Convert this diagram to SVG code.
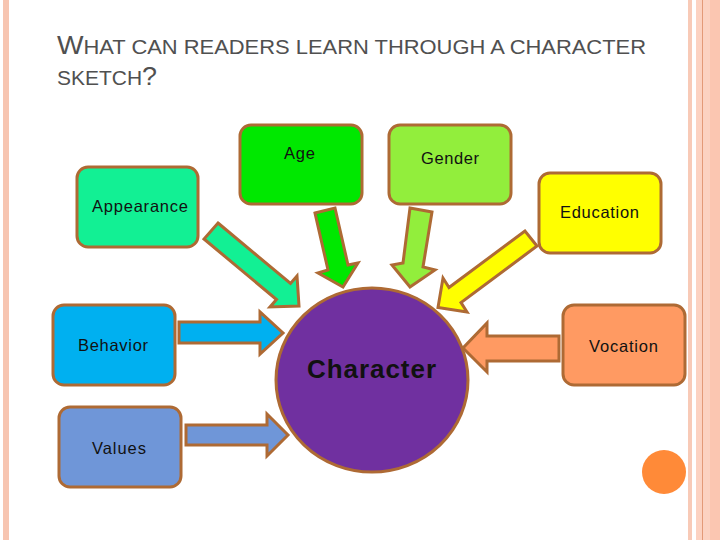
<svg xmlns="http://www.w3.org/2000/svg" width="720" height="540" viewBox="0 0 720 540">
<style>
.box{stroke:#AE6A34;stroke-width:3}
.arr{stroke:#AE6A34;stroke-width:3;stroke-linejoin:miter}
.lbl{font-family:"Liberation Sans",Arial,sans-serif;font-size:16.5px;fill:#111;text-anchor:middle}
.ttl{font-family:"Liberation Sans",Arial,sans-serif;fill:#505050}
</style>
<rect width="720" height="540" fill="#fff"/>
<rect x="3" y="0" width="6" height="540" fill="#F7C5B1"/>
<rect x="688" y="0" width="4" height="540" fill="#F8CAB7"/>
<rect x="696" y="0" width="24" height="540" fill="#FCD2C1"/>
<rect x="710" y="0" width="10" height="540" fill="#FBC6B1"/>
<line x1="702.5" y1="0" x2="702.5" y2="540" stroke="#E39A78" stroke-width="1"/>
<text class="ttl" x="57" y="54" textLength="589" lengthAdjust="spacingAndGlyphs"><tspan font-size="25">W</tspan><tspan font-size="19.5">HAT CAN READERS LEARN THROUGH A CHARACTER</tspan></text>
<text class="ttl" x="57" y="85" textLength="100" lengthAdjust="spacingAndGlyphs"><tspan font-size="19.5">SKETCH</tspan><tspan font-size="25">?</tspan></text>
<g id="connectors">
<polygon class="arr" fill="#12F094" points="218,223 290.5,283.5 297,276 299,306 270,307 276.5,299.5 204,239"/>
<polygon class="arr" fill="#00E800" points="315,213 335,208 348,265 358,263 343,287 318,273 328,270"/>
<polygon class="arr" fill="#92EE3C" points="410,208 432,212 423,267 435,270 410,287 392,265 403,263"/>
<polygon class="arr" fill="#FFFF00" points="525,231 449,287.5 443,278 438,307.5 467,312 461,302.5 537,246"/>
<polygon class="arr" fill="#00B0F0" points="179,322 260,322 260,312 283,333 260,354 260,343 179,343"/>
<polygon class="arr" fill="#6F96D8" points="186,425 267,425 267,414 288,435 267,456 267,445 186,445"/>
<polygon class="arr" fill="#FF9A62" points="559,336 487,336 487,323 463,348 487,372 487,361 559,361"/>
</g>
<g id="age"><rect class="box" x="240" y="125" width="122" height="79" rx="11" fill="#00E800"/><text class="lbl" x="299.5" y="159" textLength="31">Age</text></g>
<g id="gender"><rect class="box" x="389" y="125" width="122" height="79" rx="11" fill="#92EE3C"/><text class="lbl" x="450" y="164" textLength="58">Gender</text></g>
<g id="appearance"><rect class="box" x="77" y="167" width="121" height="80" rx="11" fill="#12F094"/><text class="lbl" x="140" y="212" textLength="96">Appearance</text></g>
<g id="education"><rect class="box" x="539" y="173" width="122" height="80" rx="11" fill="#FFFF00"/><text class="lbl" x="599.5" y="218" textLength="79">Education</text></g>
<g id="behavior"><rect class="box" x="53" y="305" width="122" height="80" rx="11" fill="#00B0F0"/><text class="lbl" x="113" y="351" textLength="70">Behavior</text></g>
<g id="values"><rect class="box" x="59" y="407" width="122" height="80" rx="11" fill="#6F96D8"/><text class="lbl" x="119" y="454" textLength="54">Values</text></g>
<g id="vocation"><rect class="box" x="563" y="305" width="122" height="80" rx="11" fill="#FF9A62"/><text class="lbl" x="623.5" y="352" textLength="69">Vocation</text></g>
<g id="character"><ellipse class="box" cx="372" cy="380" rx="96" ry="92" fill="#7030A0"/><text x="371.5" y="378" text-anchor="middle" font-family="Liberation Sans,Arial,sans-serif" font-weight="bold" font-size="26" fill="#111" textLength="129">Character</text></g>
<circle cx="664" cy="472" r="22" fill="#FF8A38"/>
</svg>
